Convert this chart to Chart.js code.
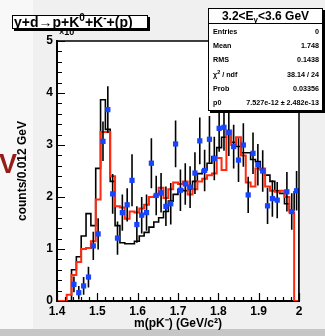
<!DOCTYPE html>
<html>
<head>
<meta charset="utf-8">
<script src="https://cdn.jsdelivr.net/npm/chart.js@4.4.0/dist/chart.umd.min.js"></script>
<style>
  html, body { margin: 0; padding: 0; background: #f0f0f0; }
  #wrap { position: relative; width: 325px; height: 336px; overflow: hidden; font-family: "Liberation Sans", Arial, sans-serif; }
  #plot { position: absolute; left: 0; top: 0; }
  .bigV { position: absolute; left: -1px; top: 151px; color: #941d17; font: bold 27px "Liberation Sans", Arial, sans-serif; line-height: 27px; }
  .expo { position: absolute; left: 59px; top: 27px; font: bold 9px "Liberation Sans", Arial, sans-serif; color: #000; }
  .title { position: absolute; left: 12px; top: 15px; width: 133px; height: 12px; background: #fff; border: 1px solid #000;
           box-shadow: 2px 2px 0 #000; font: bold 14px "Liberation Sans", Arial, sans-serif; line-height: 13px; white-space: nowrap; padding-left: 1px; }
  .title sup { font-size: 10px; vertical-align: 6px; line-height: 0; }
  .stats { position: absolute; left: 208px; top: 8px; width: 113px; height: 101px; background: #fff; border: 1px solid #000;
           box-shadow: 2px 2px 0 #000; }
  .stats .head { height: 14px; border-bottom: 1px solid #000; text-align: center; font: bold 12px "Liberation Sans", Arial, sans-serif; line-height: 15px; }
  .stats .head sub { font-size: 8px; vertical-align: -2px; line-height: 0; }
  .stats .row { height: 14.3px; display: flex; justify-content: space-between; align-items: center; padding: 0 3px 0 4px;
                font: bold 7.2px "Liberation Sans", Arial, sans-serif; }
  .stats .row sup { font-size: 5.5px; vertical-align: 3px; line-height: 0; }
</style>
</head>
<body>
<div id="wrap">
  <canvas id="plot" width="325" height="336"></canvas>
  <div class="bigV">V</div>
  <div class="expo">×10</div>
  <div class="title">γ+d→p+K<sup>0</sup>+K<sup>-</sup>+(p)</div>
  <div class="stats">
    <div class="head">3.2&lt;E<sub>γ</sub>&lt;3.6 GeV</div>
    <div class="row"><span>Entries</span><span>0</span></div>
    <div class="row"><span>Mean</span><span>1.748</span></div>
    <div class="row"><span>RMS</span><span>0.1438</span></div>
    <div class="row"><span>χ<sup>2</sup> / ndf</span><span>38.14 / 24</span></div>
    <div class="row"><span>Prob</span><span>0.03356</span></div>
    <div class="row"><span>p0</span><span>7.527e-12 ± 2.482e-13</span></div>
  </div>
</div>
<script>
// 50 bins of 0.012 GeV between 1.4 and 2.0, values in units of 1e-12
const xLow = 1.4;
const binWidth = 0.012;

// black histogram
const mcBlack = [0, 0, 0, 0.6, 0.85, 1.25, 1.68, 1.45, 2.55, 3.87,
                 3.3, 2.3, 1.45, 1.12, 1.1, 1.1, 1.15, 1.25, 1.32, 1.42,
                 1.52, 1.6, 1.72, 1.92, 2.05, 2.15, 2.12, 2.15, 2.3, 2.45,
                 2.52, 2.65, 2.78, 2.95, 3.15, 3.27, 3.05, 2.97, 2.85, 2.85,
                 2.72, 2.68, 2.52, 2.42, 2.3, 2.12, 2.07, 1.87, 1.75, 2.1];

// red histogram
const mcRed = [0, 0, 0.12, 0.5, 0.75, 1.0, 1.02, 1.15, 1.95, 3.25,
               3.25, 2.4, 1.82, 1.8, 1.58, 1.72, 1.7, 1.78, 1.85, 2.0,
               2.03, 2.18, 1.98, 2.15, 2.28, 2.25, 2.3, 2.05, 2.15, 2.3,
               2.35, 2.42, 2.45, 2.75, 2.52, 3.28, 3.0, 3.15, 2.8, 2.28,
               2.2, 2.55, 2.55, 2.2, 2.12, 2.1, 2.12, 2.0, 1.7, 0];

// blue data points and their errors (null = no point)
const dataVal = [null, null, null, 0.32, 0.16, 0.29, 0.46, 1.06, 1.29, 3.07,
                 3.68, 2.06, 1.21, 1.70, 1.85, 2.32, 1.47, 1.65, 1.70, 2.65,
                 2.03, 2.08, 1.82, 1.87, 3.02, 2.13, 2.25, 2.19, 2.46, 3.08,
                 2.51, 3.11, 2.74, 3.32, 3.34, 3.24, 2.97, 2.71, 3.0, 2.04,
                 2.84, 2.62, 2.5, 1.83, 1.97, 1.94, null, 2.10, 1.72, 2.12];
const dataErr = [null, null, null, 0.15, 0.13, 0.17, 0.2, 0.27, 0.3, 0.38,
                 0.45, 0.38, 0.32, 0.35, 0.32, 0.5, 0.35, 0.35, 0.35, 0.48,
                 0.38, 0.38, 0.38, 0.4, 0.45, 0.4, 0.4, 0.4, 0.4, 0.45,
                 0.4, 0.45, 0.42, 0.45, 0.45, 0.45, 0.42, 0.42, 0.42, 0.35,
                 0.4, 0.4, 0.4, 0.35, 0.35, 0.35, null, 0.38, 0.35, 0.38];

const xTicks = [1.4, 1.5, 1.6, 1.7, 1.8, 1.9, 2.0];
const yTicks = [0, 1, 2, 3, 4, 5];

function histPoints(vals) {
  const pts = [{x: xLow, y: 0}];
  vals.forEach((v, i) => pts.push({x: xLow + i * binWidth, y: v}));
  const xHigh = xLow + vals.length * binWidth;
  pts.push({x: xHigh, y: vals[vals.length - 1]});
  pts.push({x: xHigh, y: 0});
  return pts;
}

const dataPoints = [];
dataVal.forEach((v, i) => {
  if (v !== null) dataPoints.push({x: xLow + (i + 0.5) * binWidth, y: v, e: dataErr[i]});
});

const axisFont = {family: '"Liberation Sans", Arial, sans-serif', size: 12, weight: 'bold'};

// pad colours, frame and inward ROOT-like ticks
const rootFrame = {
  id: 'rootFrame',
  beforeDraw(chart) {
    const {ctx, chartArea: a, width, height} = chart;
    ctx.save();
    ctx.fillStyle = '#f0f0f0';
    ctx.fillRect(0, 0, width, height);
    ctx.fillStyle = '#f8f8f8';
    ctx.fillRect(0, 0, 33, 329);
    ctx.fillStyle = '#c6c6c6';
    ctx.fillRect(0, 329, width, height - 329);
    ctx.fillStyle = '#ffffff';
    ctx.fillRect(a.left, a.top, a.right - a.left, a.bottom - a.top);
    ctx.restore();
  },
  afterDraw(chart) {
    const {ctx, chartArea: a, scales: {x, y}} = chart;
    ctx.save();
    ctx.strokeStyle = '#000';
    ctx.lineWidth = 1.5;
    ctx.beginPath();
    ctx.moveTo(a.left, a.top);
    ctx.lineTo(a.right, a.top);
    ctx.lineTo(a.right, a.bottom);
    ctx.stroke();
    ctx.lineWidth = 1.2;
    ctx.beginPath();
    for (let k = 0; k <= 30; k++) {
      const px = Math.round(x.getPixelForValue(xLow + k * 0.02)) + 0.5;
      const len = k % 5 === 0 ? 8 : 4;
      ctx.moveTo(px, a.bottom);
      ctx.lineTo(px, a.bottom - len);
    }
    for (let k = 0; k <= 25; k++) {
      const py = Math.round(y.getPixelForValue(k * 0.2)) + 0.5;
      const len = k % 5 === 0 ? 8 : 5;
      ctx.moveTo(a.left, py);
      ctx.lineTo(a.left + len, py);
    }
    ctx.stroke();
    ctx.restore();
  }
};

// vertical error bars under the blue squares
const errorBars = {
  id: 'errorBars',
  beforeDatasetDraw(chart, args) {
    if (args.index !== 0) return;
    const {ctx, chartArea: a, scales: {x, y}} = chart;
    ctx.save();
    ctx.beginPath();
    ctx.rect(a.left, a.top, a.right - a.left, a.bottom - a.top);
    ctx.clip();
    ctx.strokeStyle = '#000';
    ctx.lineWidth = 1.6;
    ctx.beginPath();
    dataPoints.forEach(p => {
      const px = x.getPixelForValue(p.x);
      ctx.moveTo(px, y.getPixelForValue(p.y - p.e));
      ctx.lineTo(px, y.getPixelForValue(p.y + p.e));
    });
    ctx.stroke();
    ctx.restore();
  }
};

new Chart(document.getElementById('plot'), {
  type: 'line',
  data: {
    datasets: [
      {
        data: dataPoints,
        showLine: false,
        pointStyle: 'rect',
        pointRadius: 3.7,
        pointBorderWidth: 0,
        pointBackgroundColor: '#1744ff',
        borderColor: '#1744ff'
      },
      {
        data: histPoints(mcRed),
        stepped: true,
        borderColor: '#ff2a10',
        borderWidth: 2,
        pointRadius: 0,
        fill: false
      },
      {
        data: histPoints(mcBlack),
        stepped: true,
        borderColor: '#000000',
        borderWidth: 1.6,
        pointRadius: 0,
        fill: false
      }
    ]
  },
  options: {
    responsive: false,
    animation: false,
    devicePixelRatio: 1,
    layout: {padding: {left: 0, right: 26, top: 41, bottom: 0}},
    plugins: {legend: {display: false}, tooltip: {enabled: false}},
    scales: {
      x: {
        type: 'linear',
        min: 1.4,
        max: 2.0,
        afterBuildTicks: s => { s.ticks = xTicks.map(v => ({value: v})); },
        afterFit: s => { s.height = 35; s.paddingLeft = 0; s.paddingRight = 0; },
        grid: {display: false, drawTicks: false},
        border: {display: true, color: '#000', width: 2},
        ticks: {color: '#000', font: axisFont, padding: 3, maxRotation: 0,
                callback: v => String(+v.toFixed(1))},
        title: {display: true, text: 'm(pK⁻) (GeV/c²)', color: '#000', font: axisFont,
                padding: {top: 0, bottom: 5}}
      },
      y: {
        type: 'linear',
        min: 0,
        max: 5,
        afterBuildTicks: s => { s.ticks = yTicks.map(v => ({value: v})); },
        afterFit: s => { s.width = 57; s.paddingTop = 0; s.paddingBottom = 0; },
        grid: {display: false, drawTicks: false},
        border: {display: true, color: '#000', width: 2},
        ticks: {color: '#000', font: axisFont, padding: 4,
                callback: v => String(v)},
        title: {display: true, text: 'counts/0.012 GeV', color: '#000', font: axisFont,
                padding: {top: 15, bottom: 0}}
      }
    }
  },
  plugins: [rootFrame, errorBars]
});
</script>
</body>
</html>
